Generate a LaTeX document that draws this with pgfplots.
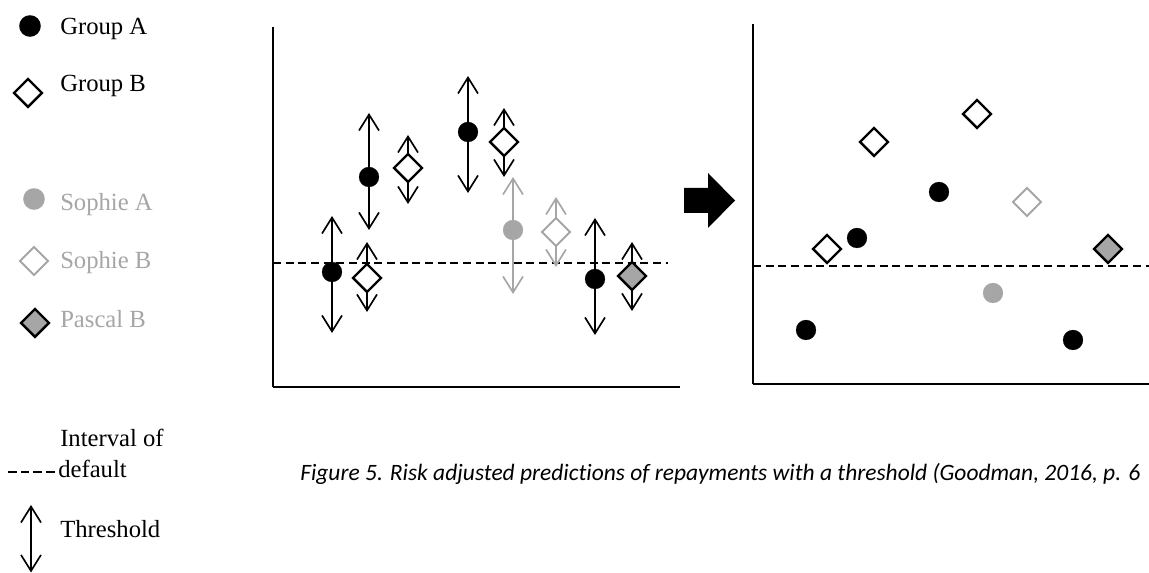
\documentclass[border=0pt]{standalone}
\usepackage{pgfplots}
\pgfplotsset{compat=1.18}
\usepackage{fontspec}
\setmainfont{Liberation Serif}
\newfontfamily\capfont[Ligatures=NoCommon]{Carlito}
\usetikzlibrary{arrows.meta}
\definecolor{lg}{HTML}{A6A6A6}
\begin{document}
\begin{tikzpicture}[>={Straight Barb[length=12pt,width=15pt]}]
\useasboundingbox (0pt,0pt) rectangle (861.75pt,429.75pt);
\clip (0pt,0pt) rectangle (861.75pt,429.75pt);
\pgfplotsset{
  frame/.style={scale only axis, width=305.25pt, height=270pt, anchor=south west,
    axis x line=bottom, axis y line=left,
    axis line style={-, line width=2.1pt, black},
    xtick=\empty, ytick=\empty, clip=false},
  thr/.style={<->, line width=1.25pt, black},
  thrg/.style={<->, line width=1.25pt, lg},
  dl/.style={black, line width=1.1pt, dash pattern=on 6pt off 3.5pt},
  ma/.style={only marks, mark=*, mark size=7.5pt, mark options={draw=black, fill=black, line width=0.1pt}},
  msa/.style={only marks, mark=*, mark size=7.5pt, mark options={draw=lg, fill=lg, line width=0.1pt}},
  mb/.style={only marks, mark=square*, mark size=7.4pt, mark options={rotate=45, fill=white, draw=black, line width=1.8pt}},
  msb/.style={only marks, mark=square*, mark size=7.4pt, mark options={rotate=45, fill=white, draw=lg, line width=1.5pt}},
  mpb/.style={only marks, mark=square*, mark size=7.4pt, mark options={rotate=45, fill=lg, draw=black, line width=1.8pt}},
}
% ---------------- left plot (before) ----------------
\begin{axis}[frame, at={(204.75pt,139.5pt)}, xmin=273, xmax=680, ymin=186, ymax=546]
\addplot[dl] coordinates {(273,310) (668,310)};
\addplot[thr] coordinates {(332,240) (332,357)};
\addplot[thr] coordinates {(369,343) (369,460)};
\addplot[thr] coordinates {(468,380) (468,497)};
\addplot[thr] coordinates {(595,238) (595,355)};
\addplot[thr] coordinates {(367,261) (367,331)};
\addplot[thr] coordinates {(408,369) (408,438)};
\addplot[thr] coordinates {(504,396) (504,465)};
\addplot[thrg] coordinates {(513,279) (513,396)};
\addplot[thrg] coordinates {(556,306) (556,376)};
\addplot[thr] coordinates {(632,262) (632,331)};
\addplot[ma] coordinates {(332,301) (369,396) (468,441) (595,294)};
\addplot[mb] coordinates {(367,295) (408,405) (504,431)};
\addplot[msa] coordinates {(513,343)};
\addplot[msb] coordinates {(556,341)};
\addplot[mpb] coordinates {(632,297)};
\end{axis}
% ---------------- right plot (after) ----------------
\begin{axis}[frame, at={(564.75pt,141.75pt)}, xmin=753, xmax=1160, ymin=189, ymax=549]
\addplot[dl] coordinates {(753,307) (1160,307)};
\addplot[ma] coordinates {(806,243) (857,335) (939,381) (1073,233)};
\addplot[mb] coordinates {(827,324) (874,431) (977,459)};
\addplot[msb] coordinates {(1027,371)};
\addplot[msa] coordinates {(993,280)};
\addplot[mpb] coordinates {(1108,324)};
\end{axis}
% ---------------- legend, arrow and caption ----------------
\begin{axis}[at={(0pt,0pt)}, anchor=south west, scale only axis, width=861.75pt, height=429.75pt,
  xmin=0, xmax=1149, ymin=0, ymax=573, hide axis, clip=false]
\addplot[fill=black, draw=none] coordinates {(684,385) (708,385) (708,400) (735,372.5) (708,345) (708,360) (684,360)} -- cycle;
\addplot[only marks, mark=*, mark size=8pt, mark options={draw=black, fill=black, line width=0.1pt}] coordinates {(30,547)};
\addplot[mb] coordinates {(28,480)};
\addplot[only marks, mark=*, mark size=8pt, mark options={draw=lg, fill=lg, line width=0.1pt}] coordinates {(34,374)};
\addplot[msb] coordinates {(34,312)};
\addplot[mpb] coordinates {(35,250)};
\addplot[black, line width=1.1pt, dash pattern=on 6.5pt off 3pt] coordinates {(8,101) (56,101)};
\addplot[thr] coordinates {(31,0.5) (31,68)};
\begin{scope}[every node/.style={anchor=base west, inner sep=0pt, font=\fontsize{18.5pt}{22pt}\selectfont}]
\node at (axis cs:60,538) {Group A};
\node at (axis cs:60,481) {Group B};
\node[text=lg] at (axis cs:60,362) {Sophie A};
\node[text=lg] at (axis cs:60,304) {Sophie B};
\node[text=lg] at (axis cs:60,245) {Pascal B};
\node at (axis cs:60,126) {Interval of};
\node at (axis cs:58,95) {default};
\node at (axis cs:60,35) {Threshold};
\end{scope}
\node[anchor=base west, inner sep=0pt, font=\capfont\itshape\fontsize{17.6pt}{21pt}\selectfont] at (axis cs:300,92) {Figure 5. Risk adjusted predictions of repayments with a threshold (Goodman, 2016, p. 6};
\end{axis}
\end{tikzpicture}
\end{document}
